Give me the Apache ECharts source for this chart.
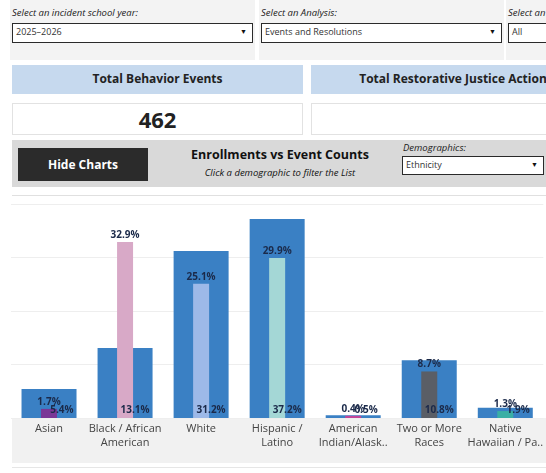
<!DOCTYPE html>
<html>
<head>
<meta charset="utf-8">
<script src="https://cdn.jsdelivr.net/npm/echarts@6/dist/echarts.min.js"></script>
<style>
  html,body{margin:0;padding:0;width:546px;height:473px;overflow:hidden;background:#fff;font-family:"Open Sans","Noto Sans",sans-serif;color:#222;}
  .abs{position:absolute;box-sizing:border-box;}
  .panel{background:#f3f3f3;}
  .lbl{font-style:italic;font-size:9.5px;color:#222;white-space:nowrap;}
  .dd{background:#fff;border:1.5px solid #2a2a2a;font-size:9px;color:#333;padding-left:3px;line-height:16px;white-space:nowrap;overflow:hidden;}
  .arrow{position:absolute;right:5px;top:0;font-size:7px;color:#111;}
  .hdr{background:#c6d9ee;font-weight:bold;font-size:12px;text-align:center;line-height:28px;color:#222;white-space:nowrap;}
  .val{background:#fff;border:1px solid #e2e2e2;text-align:center;font-weight:bold;font-size:22px;line-height:31px;color:#222;}
</style>
</head>
<body>
<!-- filter panels -->
<div class="abs panel" style="left:10px;top:0;width:245px;height:60px;"></div>
<div class="abs panel" style="left:259px;top:0;width:245px;height:60px;"></div>
<div class="abs panel" style="left:506px;top:0;width:60px;height:60px;"></div>
<div class="abs lbl" style="left:12px;top:6px;">Select an incident school year:</div>
<div class="abs dd" style="left:12px;top:23px;width:241px;height:20px;">2025–2026<span class="arrow">▼</span></div>
<div class="abs lbl" style="left:261px;top:6px;">Select an Analysis:</div>
<div class="abs dd" style="left:261px;top:23px;width:241px;height:20px;">Events and Resolutions<span class="arrow">▼</span></div>
<div class="abs lbl" style="left:508px;top:6px;">Select an Action:</div>
<div class="abs dd" style="left:508px;top:23px;width:80px;height:20px;">All</div>

<!-- KPI -->
<div class="abs hdr" style="left:12px;top:65px;width:291px;height:29px;">Total Behavior Events</div>
<div class="abs hdr" style="left:311px;top:65px;width:290px;height:29px;">Total Restorative Justice Actions</div>
<div class="abs val" style="left:12px;top:103px;width:291px;height:32px;">462</div>
<div class="abs val" style="left:311px;top:103px;width:290px;height:32px;"></div>

<!-- chart header bar -->
<div class="abs" style="left:12px;top:140px;width:560px;height:47px;background:#d9d9d9;"></div>
<div class="abs" style="left:18px;top:148px;width:130px;height:33px;background:#2b2b2b;color:#fff;font-weight:bold;font-size:12px;text-align:center;line-height:33px;">Hide Charts</div>
<div class="abs" style="left:180px;top:146px;width:200px;text-align:center;font-weight:bold;font-size:12.5px;color:#111;">Enrollments vs Event Counts</div>
<div class="abs" style="left:180px;top:166px;width:200px;text-align:center;font-style:italic;font-size:9.5px;color:#111;">Click a demographic to filter the List</div>
<div class="abs lbl" style="left:403px;top:141px;">Demographics:</div>
<div class="abs dd" style="left:402px;top:156px;width:142px;height:19px;line-height:15px;">Ethnicity<span class="arrow">▼</span></div>

<!-- chart frame -->
<div class="abs" style="left:12px;top:195px;width:540px;height:1px;background:#e0e0e0;"></div>
<div class="abs" style="left:12px;top:418px;width:540px;height:45px;background:#f1f1f1;"></div>
<div class="abs" style="left:12px;top:467px;width:540px;height:1px;background:#e6e6e6;"></div>

<div id="chart" class="abs" style="left:0;top:190px;width:546px;height:283px;"></div>

<script>
const categories = ['Asian', 'Black / African\nAmerican', 'White', 'Hispanic /\nLatino', 'American\nIndian/Alask..', 'Two or More\nRaces', 'Native\nHawaiian / Pa..'];
const enrollPct = [5.4, 13.1, 31.2, 37.2, 0.5, 10.8, 1.9];
const eventPct = [1.7, 32.9, 25.1, 29.9, 0.4, 8.7, 1.3];
const eventColors = ['#7a3796', '#d8a9c7', '#9db9e8', '#a4d7d6', '#c2469a', '#5a5e66', '#3aafa5'];
const yTicks = [0, 10, 20, 30, 40];

const chart = echarts.init(document.getElementById('chart'));
const labelStyle = {color: '#1b2a4a', fontWeight: 'bold', fontSize: 10, fontFamily: 'Open Sans'};
const pct = p => p.value.toFixed(1) + '%';
chart.setOption({
  animation: false,
  backgroundColor: 'transparent',
  grid: {left: 11, right: 2, top: 14, bottom: 55},
  xAxis: [
    {
      type: 'category',
      data: categories,
      axisLine: {show: false},
      axisTick: {show: false},
      axisLabel: {color: '#444', fontSize: 11, lineHeight: 14, margin: 4, interval: 0, fontFamily: 'Open Sans'}
    },
    {type: 'category', data: categories, show: false},
    {type: 'category', data: categories, show: false}
  ],
  yAxis: {
    type: 'value',
    min: yTicks[0],
    max: yTicks[yTicks.length - 1],
    interval: 10,
    axisLabel: {show: false},
    axisLine: {show: false},
    axisTick: {show: false},
    splitLine: {lineStyle: {color: '#eeeeee', width: 1}}
  },
  series: [
    {
      type: 'bar',
      name: 'Enrollment',
      data: enrollPct,
      xAxisIndex: 0,
      barWidth: 55,
      itemStyle: {color: '#3a80c4'},
      z: 2
    },
    {
      type: 'bar',
      name: 'Events',
      data: eventPct.map((v, i) => ({value: v, itemStyle: {color: eventColors[i]}})),
      xAxisIndex: 1,
      barWidth: 16,
      label: Object.assign({show: true, position: 'top', distance: 2, formatter: pct}, labelStyle),
      z: 3
    },
    {
      type: 'bar',
      name: 'Enrollment labels',
      data: enrollPct,
      xAxisIndex: 2,
      barWidth: 55,
      itemStyle: {color: 'rgba(0,0,0,0)'},
      label: Object.assign({show: true, position: 'insideBottomRight', distance: 3, formatter: pct}, labelStyle),
      silent: true,
      z: 4
    }
  ]
});
</script>
</body>
</html>
